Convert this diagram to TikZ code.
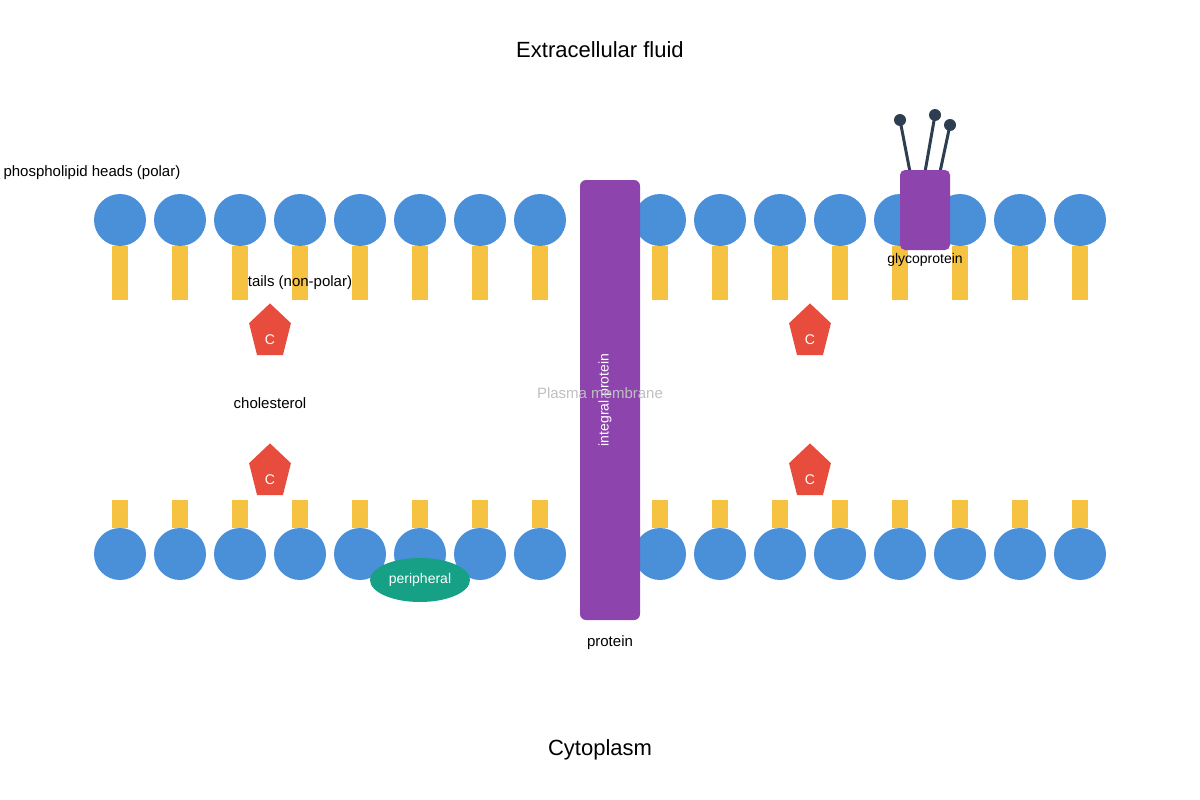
\documentclass[tikz,border=0pt]{standalone}
\usepackage{fontspec}
\setmainfont{Liberation Sans}
\usetikzlibrary{shapes.geometric}
\definecolor{head color}{HTML}{4A90D9}
\definecolor{tail color}{HTML}{F5C242}
\definecolor{protein color}{HTML}{8E44AD}
\definecolor{chol color}{HTML}{E74C3C}
\definecolor{periph color}{HTML}{16A085}
\definecolor{stalk color}{HTML}{2C3E50}
\tikzset{
    x={1pt},
    y={-1pt},
    head/.style={
        circle, fill=head color,
        minimum size={52}, inner sep=0pt,
    },
    tail/.style={
        fill=tail color,
    },
    cholesterol/.style={
        regular polygon, regular polygon sides=5,
        fill=chol color, inner sep=0pt,
        minimum size={44},
        yscale=1.3,
        font={\fontsize{14}{16}\selectfont\color{white}},
    },
    title label/.style={
        font={\fontsize{22}{26}\selectfont},
    },
    side label/.style={
        font={\fontsize{15}{18}\selectfont},
    },
    stalk/.style={
        draw=stalk color, line width={3pt}, line cap=round,
    },
    knob/.style={
        circle, fill=stalk color, minimum size={12}, inner sep=0pt,
    },
}
\begin{document}
\begin{tikzpicture}
\useasboundingbox (0,0) rectangle (1200,800);
% tails and heads
\foreach \x in {120,180,...,540,660,720,...,1080} {
    \fill[tail color] (\x-8,246) rectangle (\x+8,300);
    \fill[tail color] (\x-8,500) rectangle (\x+8,528);
    \node[head] (top\x) at (\x,220) {};
    \node[head] (bot\x) at (\x,554) {};
}
% integral protein
\fill[protein color, rounded corners={6pt}] (580,180) rectangle (640,620);
\node[rotate=90, text=white, font={\fontsize{14}{16}\selectfont}] (integral) at (605,400) {integral protein};
% glycoprotein
\node[knob] (knob1) at (900,120) {};
\node[knob] (knob2) at (935,115) {};
\node[knob] (knob3) at (950,125) {};
\coordinate (stem1) at (910,172);
\coordinate (stem2) at (925,172);
\coordinate (stem3) at (940,172);
\draw[stalk] (stem1) -- (knob1.center);
\draw[stalk] (stem2) -- (knob2.center);
\draw[stalk] (stem3) -- (knob3.center);
\fill[protein color, rounded corners={5pt}] (900,170) rectangle (950,250);
\node[font={\fontsize{14}{16}\selectfont}] (glyco) at (925,260) {glycoprotein};
% cholesterol
\node[cholesterol] (chol1) at (270,332) {};
\node[cholesterol] (chol2) at (810,332) {};
\node[cholesterol] (chol3) at (270,472) {};
\node[cholesterol] (chol4) at (810,472) {};
\foreach \n/\x/\y in {chol1/270/340,chol2/810/340,chol3/270/480,chol4/810/480}
    \node[font={\fontsize{14}{16}\selectfont}, text=white] at (\x,\y) {C};
% peripheral protein
\node[ellipse, fill=periph color, minimum width={100}, minimum height={44}, inner sep=0pt,
      text=white, font={\fontsize{14}{16}\selectfont}] (peripheral) at (420,580) {peripheral};
% labels
\node[title label] (outside) at (600,50) {Extracellular fluid};
\node[title label] (inside) at (600,750) {Cytoplasm};
\node[side label, anchor=west] (heads) at (0,173) {phospholipid heads (polar)};
\node[side label] (tails) at (300,283) {tails (non-polar)};
\node[side label] (cholabel) at (270,403) {cholesterol};
\node[side label, text=black!25] (membrane) at (600,393) {Plasma membrane};
\node[side label] (protein) at (610,643) {protein};
\end{tikzpicture}
\end{document}
